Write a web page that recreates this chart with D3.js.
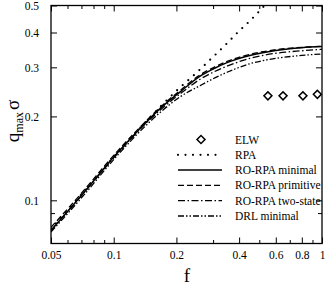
<!DOCTYPE html>
<meta charset="utf-8">
<style>
 body { margin: 0; background: #fff; }
 svg { display: block; font-family: "Liberation Serif", "DejaVu Serif", serif; }
 .tick text { font-family: "Liberation Serif", "DejaVu Serif", serif; font-size: 11.5px; fill: #000; }
 .tick line { stroke: #000; stroke-width: 1; }
 .curve { fill: none; stroke: #000; }
 .legend text { font-size: 11.5px; fill: #000; }
</style>
<body>
<script src="https://cdn.jsdelivr.net/npm/d3@7/dist/d3.min.js"></script>
<script>

 // f values shared by the RO-RPA / DRL curves
 var fGrid = [0.05, 0.07, 0.1, 0.13, 0.17, 0.21, 0.26, 0.3, 0.35, 0.45, 0.6, 0.8, 1];
 var roMinimal   = [0.078, 0.104, 0.143, 0.177, 0.216, 0.246, 0.279, 0.296, 0.312, 0.331, 0.345, 0.353, 0.356];
 var roPrimitive = [0.080, 0.106, 0.145, 0.179, 0.218, 0.249, 0.282, 0.299, 0.315, 0.334, 0.347, 0.354, 0.357];
 var roTwoState  = [0.078, 0.104, 0.142, 0.176, 0.213, 0.242, 0.272, 0.288, 0.303, 0.323, 0.337, 0.344, 0.348];
 var drlMinimal  = [0.077, 0.102, 0.140, 0.173, 0.209, 0.236, 0.258, 0.273, 0.288, 0.309, 0.323, 0.331, 0.335];

 // RPA goes off the top of the plot
 var rpaF = [0.05, 0.07, 0.1, 0.15, 0.2, 0.25, 0.3, 0.35, 0.4, 0.45, 0.5, 0.55];
 var rpaQ = [0.079, 0.105, 0.143, 0.199, 0.247, 0.287, 0.327, 0.366, 0.405, 0.44, 0.477, 0.515];

 // ELW simulation points
 var elwF = [0.55, 0.65, 0.81, 0.95];
 var elwQ = [0.237, 0.237, 0.237, 0.240];

 var xMajor = [0.05, 0.1, 0.2, 0.4, 0.6, 0.8, 1];
 var xMinor = [0.06, 0.07, 0.08, 0.09, 0.3, 0.5, 0.7, 0.9];
 var yMajor = [0.1, 0.2, 0.3, 0.4, 0.5];
 var yMinor = [0.09];

 var legendLabels = ["ELW", "RPA", "RO-RPA minimal", "RO-RPA primitive", "RO-RPA two-state", "DRL minimal"];

 var W = 328, H = 285;
 var pLeft = 51, pRight = 322, pTop = 5.5, pBottom = 243.5;

 var x = d3.scaleLog().domain([0.05, 1]).range([pLeft, pRight]);
 var y = d3.scaleLog().domain([0.07, 0.5]).range([pBottom, pTop]);

 var svg = d3.select("body").append("svg")
             .attr("width", W)
             .attr("height", H);

 svg.append("clipPath").attr("id", "plot")
    .append("rect")
    .attr("x", pLeft).attr("y", pTop)
    .attr("width", pRight - pLeft).attr("height", pBottom - pTop);

 // axes, ticks pointing inward on all four sides
 function strip(g) { g.attr("font-family", null).select(".domain").remove(); }

 svg.append("g").attr("transform", "translate(0," + pBottom + ")")
    .call(d3.axisBottom(x).tickValues(xMajor).tickSize(-6).tickPadding(7).tickFormat(d3.format("")))
    .call(strip);
 svg.append("g").attr("transform", "translate(0," + pBottom + ")")
    .call(d3.axisBottom(x).tickValues(xMinor).tickSize(-3.5).tickFormat(""))
    .call(strip);
 svg.append("g").attr("transform", "translate(0," + pTop + ")")
    .call(d3.axisTop(x).tickValues(xMajor).tickSize(-6).tickFormat(""))
    .call(strip);
 svg.append("g").attr("transform", "translate(0," + pTop + ")")
    .call(d3.axisTop(x).tickValues(xMinor).tickSize(-3.5).tickFormat(""))
    .call(strip);

 svg.append("g").attr("transform", "translate(" + pLeft + ",0)")
    .call(d3.axisLeft(y).tickValues(yMajor).tickSize(-6).tickPadding(12).tickFormat(d3.format("")))
    .call(strip);
 svg.append("g").attr("transform", "translate(" + pLeft + ",0)")
    .call(d3.axisLeft(y).tickValues(yMinor).tickSize(-4).tickFormat(""))
    .call(strip);
 svg.append("g").attr("transform", "translate(" + pRight + ",0)")
    .call(d3.axisRight(y).tickValues(yMajor).tickSize(-6).tickFormat(""))
    .call(strip);
 svg.append("g").attr("transform", "translate(" + pRight + ",0)")
    .call(d3.axisRight(y).tickValues(yMinor).tickSize(-4).tickFormat(""))
    .call(strip);

 svg.append("rect")
    .attr("x", pLeft).attr("y", pTop)
    .attr("width", pRight - pLeft).attr("height", pBottom - pTop)
    .attr("fill", "none").attr("stroke", "#000").attr("stroke-width", 1.3);

 // curves
 var line = d3.line()
              .x(function(d) { return x(d[0]); })
              .y(function(d) { return y(d[1]); })
              .curve(d3.curveMonotoneX);

 var series = [
     { f: rpaF,  q: rpaQ,        dash: "0,7.5", width: 2.2, cap: "round" },
     { f: fGrid, q: roMinimal,   dash: null, width: 1.5, cap: "butt" },
     { f: fGrid, q: roPrimitive, dash: "6,3", width: 1.3, cap: "butt" },
     { f: fGrid, q: roTwoState,  dash: "7,2.5,1.5,2.5", width: 1.3, cap: "butt" },
     { f: fGrid, q: drlMinimal,  dash: "6,2,1.5,2,1.5,2", width: 1.3, cap: "butt" }
 ];

 var plot = svg.append("g").attr("clip-path", "url(#plot)");

 series.forEach(function(s) {
     plot.append("path")
         .datum(d3.zip(s.f, s.q))
         .attr("class", "curve")
         .attr("stroke-dasharray", s.dash)
         .attr("stroke-width", s.width)
         .attr("stroke-linecap", s.cap)
         .attr("d", line);
 });

 var diamond = d3.symbol().type(d3.symbolSquare).size(32);

 plot.selectAll(".elw")
     .data(d3.zip(elwF, elwQ))
     .enter().append("path")
     .attr("class", "elw")
     .attr("d", diamond)
     .attr("transform", function(d) { return "translate(" + x(d[0]) + "," + y(d[1]) + ") rotate(45)"; })
     .attr("fill", "#fff").attr("stroke", "#000").attr("stroke-width", 1.5);

 // legend
 var legend = svg.append("g").attr("class", "legend");
 var rowY = d3.scalePoint().domain(legendLabels).range([139.5, 216]);

 legend.append("path")
       .attr("d", diamond)
       .attr("transform", "translate(201," + rowY("ELW") + ") rotate(45)")
       .attr("fill", "#fff").attr("stroke", "#000").attr("stroke-width", 1.5);

 series.forEach(function(s, i) {
     var yy = rowY(legendLabels[i + 1]);
     legend.append("line")
           .attr("x1", 178).attr("x2", 222)
           .attr("y1", yy).attr("y2", yy)
           .attr("stroke", "#000")
           .attr("stroke-dasharray", s.dash)
           .attr("stroke-width", s.width)
           .attr("stroke-linecap", s.cap);
 });

 legend.selectAll("text")
       .data(legendLabels)
       .enter().append("text")
       .attr("x", 235)
       .attr("y", function(d) { return rowY(d); })
       .attr("dy", "0.35em")
       .text(function(d) { return d; });

 // axis titles
 svg.append("text")
    .attr("x", (pLeft + pRight) / 2 + 0.5)
    .attr("y", 282)
    .attr("text-anchor", "middle")
    .attr("font-size", 19)
    .text("f");

 var yt = svg.append("text")
             .attr("transform", "translate(19,121) rotate(-90)")
             .attr("text-anchor", "middle")
             .attr("font-size", 19);
 yt.append("tspan").text("q");
 yt.append("tspan").attr("font-size", 12).attr("dy", 4).text("max");
 yt.append("tspan").attr("dy", -4).attr("dx", 2).text("σ");

</script>
